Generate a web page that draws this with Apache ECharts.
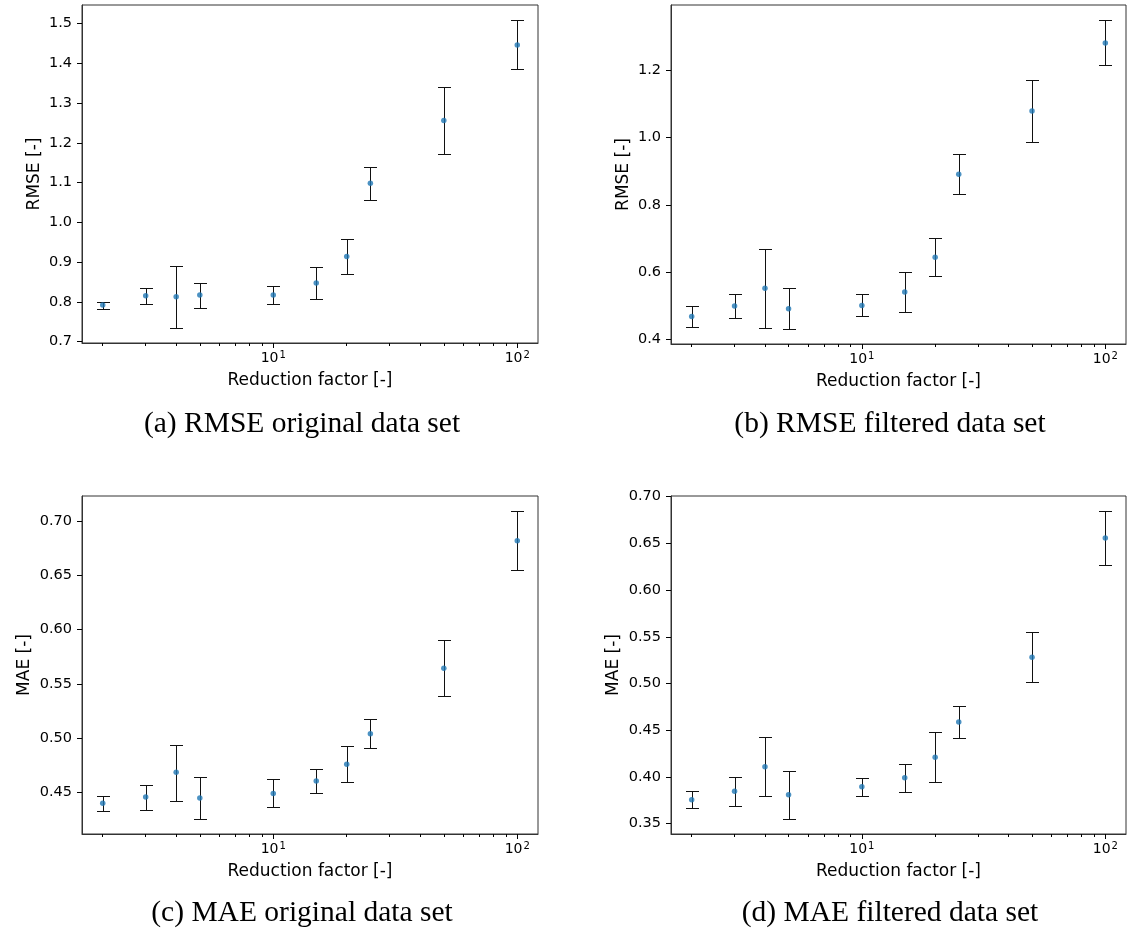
<!DOCTYPE html>
<html>
<head>
<meta charset="utf-8">
<script src="https://cdn.jsdelivr.net/npm/echarts@6/dist/echarts.min.js"></script>
<style>
  html, body { margin: 0; padding: 0; background: #fff; }
  #main { width: 1129px; height: 933px; }
</style>
</head>
<body>
<div id="main"></div>
<script>
// reduction factors on the log x axis
const reductionFactor = [2, 3, 4, 5, 10, 15, 20, 25, 50, 100];
const xMajorTicks = [10, 100];
const xMinorTicks = [2, 3, 4, 5, 6, 7, 8, 9, 20, 30, 40, 50, 60, 70, 80, 90];

// (a) RMSE original data set
const rmseOrigMean = [0.792, 0.815, 0.813, 0.817, 0.817, 0.847, 0.914, 1.098, 1.256, 1.446];
const rmseOrigLow  = [0.782, 0.794, 0.735, 0.785, 0.794, 0.806, 0.871, 1.056, 1.172, 1.385];
const rmseOrigHigh = [0.800, 0.835, 0.889, 0.847, 0.841, 0.887, 0.958, 1.140, 1.340, 1.508];
const rmseOrigTicks = [0.7, 0.8, 0.9, 1.0, 1.1, 1.2, 1.3, 1.4, 1.5];

// (b) RMSE filtered data set
const rmseFiltMean = [0.468, 0.499, 0.552, 0.491, 0.501, 0.541, 0.644, 0.891, 1.079, 1.281];
const rmseFiltLow  = [0.437, 0.464, 0.435, 0.432, 0.468, 0.481, 0.587, 0.832, 0.987, 1.216];
const rmseFiltHigh = [0.500, 0.535, 0.669, 0.552, 0.534, 0.601, 0.702, 0.951, 1.171, 1.348];
const rmseFiltTicks = [0.4, 0.6, 0.8, 1.0, 1.2];

// (c) MAE original data set
const maeOrigMean = [0.440, 0.4457, 0.4685, 0.4448, 0.449, 0.4605, 0.4758, 0.5041, 0.5644, 0.6822];
const maeOrigLow  = [0.433, 0.434, 0.442, 0.4257, 0.436, 0.4494, 0.4592, 0.4909, 0.5386, 0.6551];
const maeOrigHigh = [0.447, 0.457, 0.494, 0.464, 0.462, 0.4715, 0.4924, 0.5177, 0.5905, 0.7092];
const maeOrigTicks = [0.45, 0.50, 0.55, 0.60, 0.65, 0.70];

// (d) MAE filtered data set
const maeFiltMean = [0.3757, 0.3846, 0.411, 0.381, 0.3896, 0.3992, 0.421, 0.4588, 0.5282, 0.6557];
const maeFiltLow  = [0.3664, 0.3689, 0.3793, 0.3554, 0.380, 0.3842, 0.3946, 0.442, 0.5013, 0.6272];
const maeFiltHigh = [0.385, 0.4003, 0.4431, 0.4067, 0.3989, 0.4142, 0.4478, 0.4759, 0.5548, 0.6843];
const maeFiltTicks = [0.35, 0.40, 0.45, 0.50, 0.55, 0.60, 0.65, 0.70];

const panels = [
  { mean: rmseOrigMean, low: rmseOrigLow, high: rmseOrigHigh, ticks: rmseOrigTicks, digits: 1,
    yName: 'RMSE [-]', caption: '(a) RMSE original data set',
    grid: { left: 82, top: 5, width: 456, height: 338 }, nameGap: 39, capX: 302, capY: 424 },
  { mean: rmseFiltMean, low: rmseFiltLow, high: rmseFiltHigh, ticks: rmseFiltTicks, digits: 1,
    yName: 'RMSE [-]', caption: '(b) RMSE filtered data set',
    grid: { left: 671, top: 5, width: 455, height: 339 }, nameGap: 39, capX: 890, capY: 424 },
  { mean: maeOrigMean, low: maeOrigLow, high: maeOrigHigh, ticks: maeOrigTicks, digits: 2,
    yName: 'MAE [-]', caption: '(c) MAE original data set',
    grid: { left: 82, top: 496, width: 456, height: 338 }, nameGap: 49, capX: 302, capY: 913 },
  { mean: maeFiltMean, low: maeFiltLow, high: maeFiltHigh, ticks: maeFiltTicks, digits: 2,
    yName: 'MAE [-]', caption: '(d) MAE filtered data set',
    grid: { left: 671, top: 496, width: 455, height: 338 }, nameGap: 49, capX: 890, capY: 913 }
];

// matplotlib style 5% margins
const lx0 = Math.log10(Math.min(...reductionFactor));
const lx1 = Math.log10(Math.max(...reductionFactor));
const xMin = Math.pow(10, lx0 - 0.05 * (lx1 - lx0));
const xMax = Math.pow(10, lx1 + 0.05 * (lx1 - lx0));

const sansFont = 'DejaVu Sans';
const spine = '#333';

let grids = [], xAxes = [], yAxes = [], series = [], graphics = [];

panels.forEach(function (p, i) {
  const lo = Math.min(...p.low), hi = Math.max(...p.high);
  const pad = 0.05 * (hi - lo);

  grids.push(Object.assign({ show: true, borderColor: spine, borderWidth: 1, containLabel: false, outerBoundsMode: 'none' }, p.grid));

  // major ticks + labels
  xAxes.push({
    type: 'log', logBase: 10, gridIndex: i, position: 'bottom', min: xMin, max: xMax,
    name: 'Reduction factor [-]', nameLocation: 'middle', nameGap: 29,
    nameTextStyle: { fontFamily: sansFont, fontSize: 17, color: '#000' },
    axisLine: { show: true, lineStyle: { color: spine, width: 1 } },
    axisTick: { show: true, length: 5, customValues: xMajorTicks, lineStyle: { color: '#000' } },
    axisLabel: {
      customValues: xMajorTicks, margin: 7,
      fontFamily: sansFont, fontSize: 14, color: '#000',
      formatter: function (v) { return '10{sup|' + Math.round(Math.log10(v)) + '}'; },
      rich: { sup: { fontFamily: sansFont, fontSize: 10, color: '#000', verticalAlign: 'top', padding: [0, 0, 6, 1] } }
    },
    splitLine: { show: false }
  });
  // minor ticks
  xAxes.push({
    type: 'log', logBase: 10, gridIndex: i, position: 'bottom', min: xMin, max: xMax,
    axisLine: { show: false },
    axisTick: { show: true, length: 3, customValues: xMinorTicks, lineStyle: { color: '#000' } },
    axisLabel: { show: false },
    splitLine: { show: false }
  });

  yAxes.push({
    type: 'value', gridIndex: i, position: 'left', min: lo - pad, max: hi + pad,
    name: p.yName, nameLocation: 'middle', nameGap: p.nameGap,
    nameTextStyle: { fontFamily: sansFont, fontSize: 17, color: '#000' },
    axisLine: { show: true, lineStyle: { color: spine, width: 1 } },
    axisTick: { show: true, length: 5, customValues: p.ticks, lineStyle: { color: '#000' } },
    axisLabel: {
      customValues: p.ticks, margin: 10,
      fontFamily: sansFont, fontSize: 14.5, color: '#000',
      formatter: (function (d) { return function (v) { return v.toFixed(d); }; })(p.digits)
    },
    splitLine: { show: false }
  });

  series.push({
    type: 'custom',
    xAxisIndex: 2 * i, yAxisIndex: i,
    encode: { x: 0, y: [1, 2] },
    data: reductionFactor.map(function (f, k) { return [f, p.low[k], p.high[k]]; }),
    z: 2,
    renderItem: function (params, api) {
      const x = api.value(0);
      const top = api.coord([x, api.value(2)]);
      const bot = api.coord([x, api.value(1)]);
      const cx = Math.round(top[0]) + 0.5;
      const ty = Math.round(top[1]) + 0.5;
      const by = Math.round(bot[1]) + 0.5;
      const cap = 6.5;
      const st = { stroke: '#111', lineWidth: 1 };
      return {
        type: 'group',
        children: [
          { type: 'line', shape: { x1: cx, y1: ty, x2: cx, y2: by }, style: st },
          { type: 'line', shape: { x1: cx - cap, y1: ty, x2: cx + cap, y2: ty }, style: st },
          { type: 'line', shape: { x1: cx - cap, y1: by, x2: cx + cap, y2: by }, style: st }
        ]
      };
    }
  });

  series.push({
    type: 'scatter',
    xAxisIndex: 2 * i, yAxisIndex: i,
    symbolSize: 5.5,
    itemStyle: { color: '#1f77b4' },
    z: 3,
    data: reductionFactor.map(function (f, k) { return [f, p.mean[k]]; })
  });

  graphics.push({
    type: 'text', x: p.capX, y: p.capY,
    style: {
      text: p.caption, fill: '#000',
      font: '29.5px "Liberation Serif", serif',
      textAlign: 'center', textVerticalAlign: 'middle'
    }
  });
});

const option = {
  backgroundColor: '#ffffff',
  animation: false,
  grid: grids,
  xAxis: xAxes,
  yAxis: yAxes,
  series: series,
  graphic: graphics
};

const myChart = echarts.init(document.getElementById('main'), null, { renderer: 'canvas' });
myChart.setOption(option);
</script>
</body>
</html>
